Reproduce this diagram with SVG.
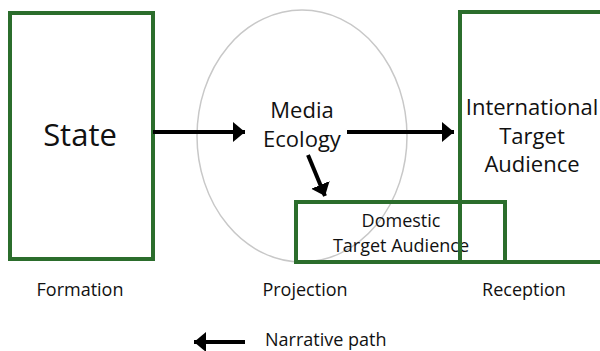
<svg xmlns="http://www.w3.org/2000/svg" width="600" height="351" viewBox="0 0 600 351">
<defs>
<style>
.box{fill:none;stroke:#2b6d2c;stroke-width:4}
.ell{fill:none;stroke:#c8c8c8;stroke-width:1.5}
.t{font-family:"Open Sans","Noto Sans",sans-serif;fill:#111;text-anchor:middle}
.conn{stroke:#000;stroke-width:4;fill:none;marker-end:url(#ah)}
</style>
<marker id="ah" markerWidth="4" markerHeight="5" refX="3" refY="2.5" orient="auto" markerUnits="strokeWidth">
<path d="M0,0 L3,2.5 L0,5 z" fill="#000"/>
</marker>
</defs>
<rect width="600" height="351" fill="#fff"/>
<g id="media-ecology">
<ellipse class="ell" cx="302" cy="136" rx="105" ry="126"/>
<text class="t" x="302" y="118" font-size="22">Media</text>
<text class="t" x="302" y="147" font-size="22">Ecology</text>
</g>
<g id="state">
<rect class="box" x="10" y="13" width="143" height="246"/>
<text class="t" x="80" y="146" font-size="31">State</text>
</g>
<g id="domestic">
<text class="t" x="401" y="227" font-size="18">Domestic</text>
<text class="t" x="401" y="252" font-size="18">Target Audience</text>
<rect class="box" x="296" y="202" width="209" height="60"/>
</g>
<g id="international">
<rect class="box" x="460" y="12" width="150" height="250"/>
<text class="t" x="532" y="115" font-size="22">International</text>
<text class="t" x="532" y="144" font-size="22">Target</text>
<text class="t" x="532" y="172" font-size="22">Audience</text>
</g>
<g id="labels">
<text class="t" x="80" y="296" font-size="18">Formation</text>
<text class="t" x="305" y="296" font-size="18">Projection</text>
<text class="t" x="524" y="296" font-size="18">Reception</text>
</g>
<g id="connectors">
<line class="conn" x1="153" y1="132" x2="245" y2="132"/>
<line class="conn" x1="347" y1="132" x2="454" y2="132"/>
<line class="conn" x1="308" y1="155" x2="325" y2="196"/>
</g>
<g id="legend">
<line class="conn" x1="245" y1="342" x2="194" y2="342"/>
<text class="t" x="265" y="346" font-size="18" style="text-anchor:start">Narrative path</text>
</g>
</svg>
